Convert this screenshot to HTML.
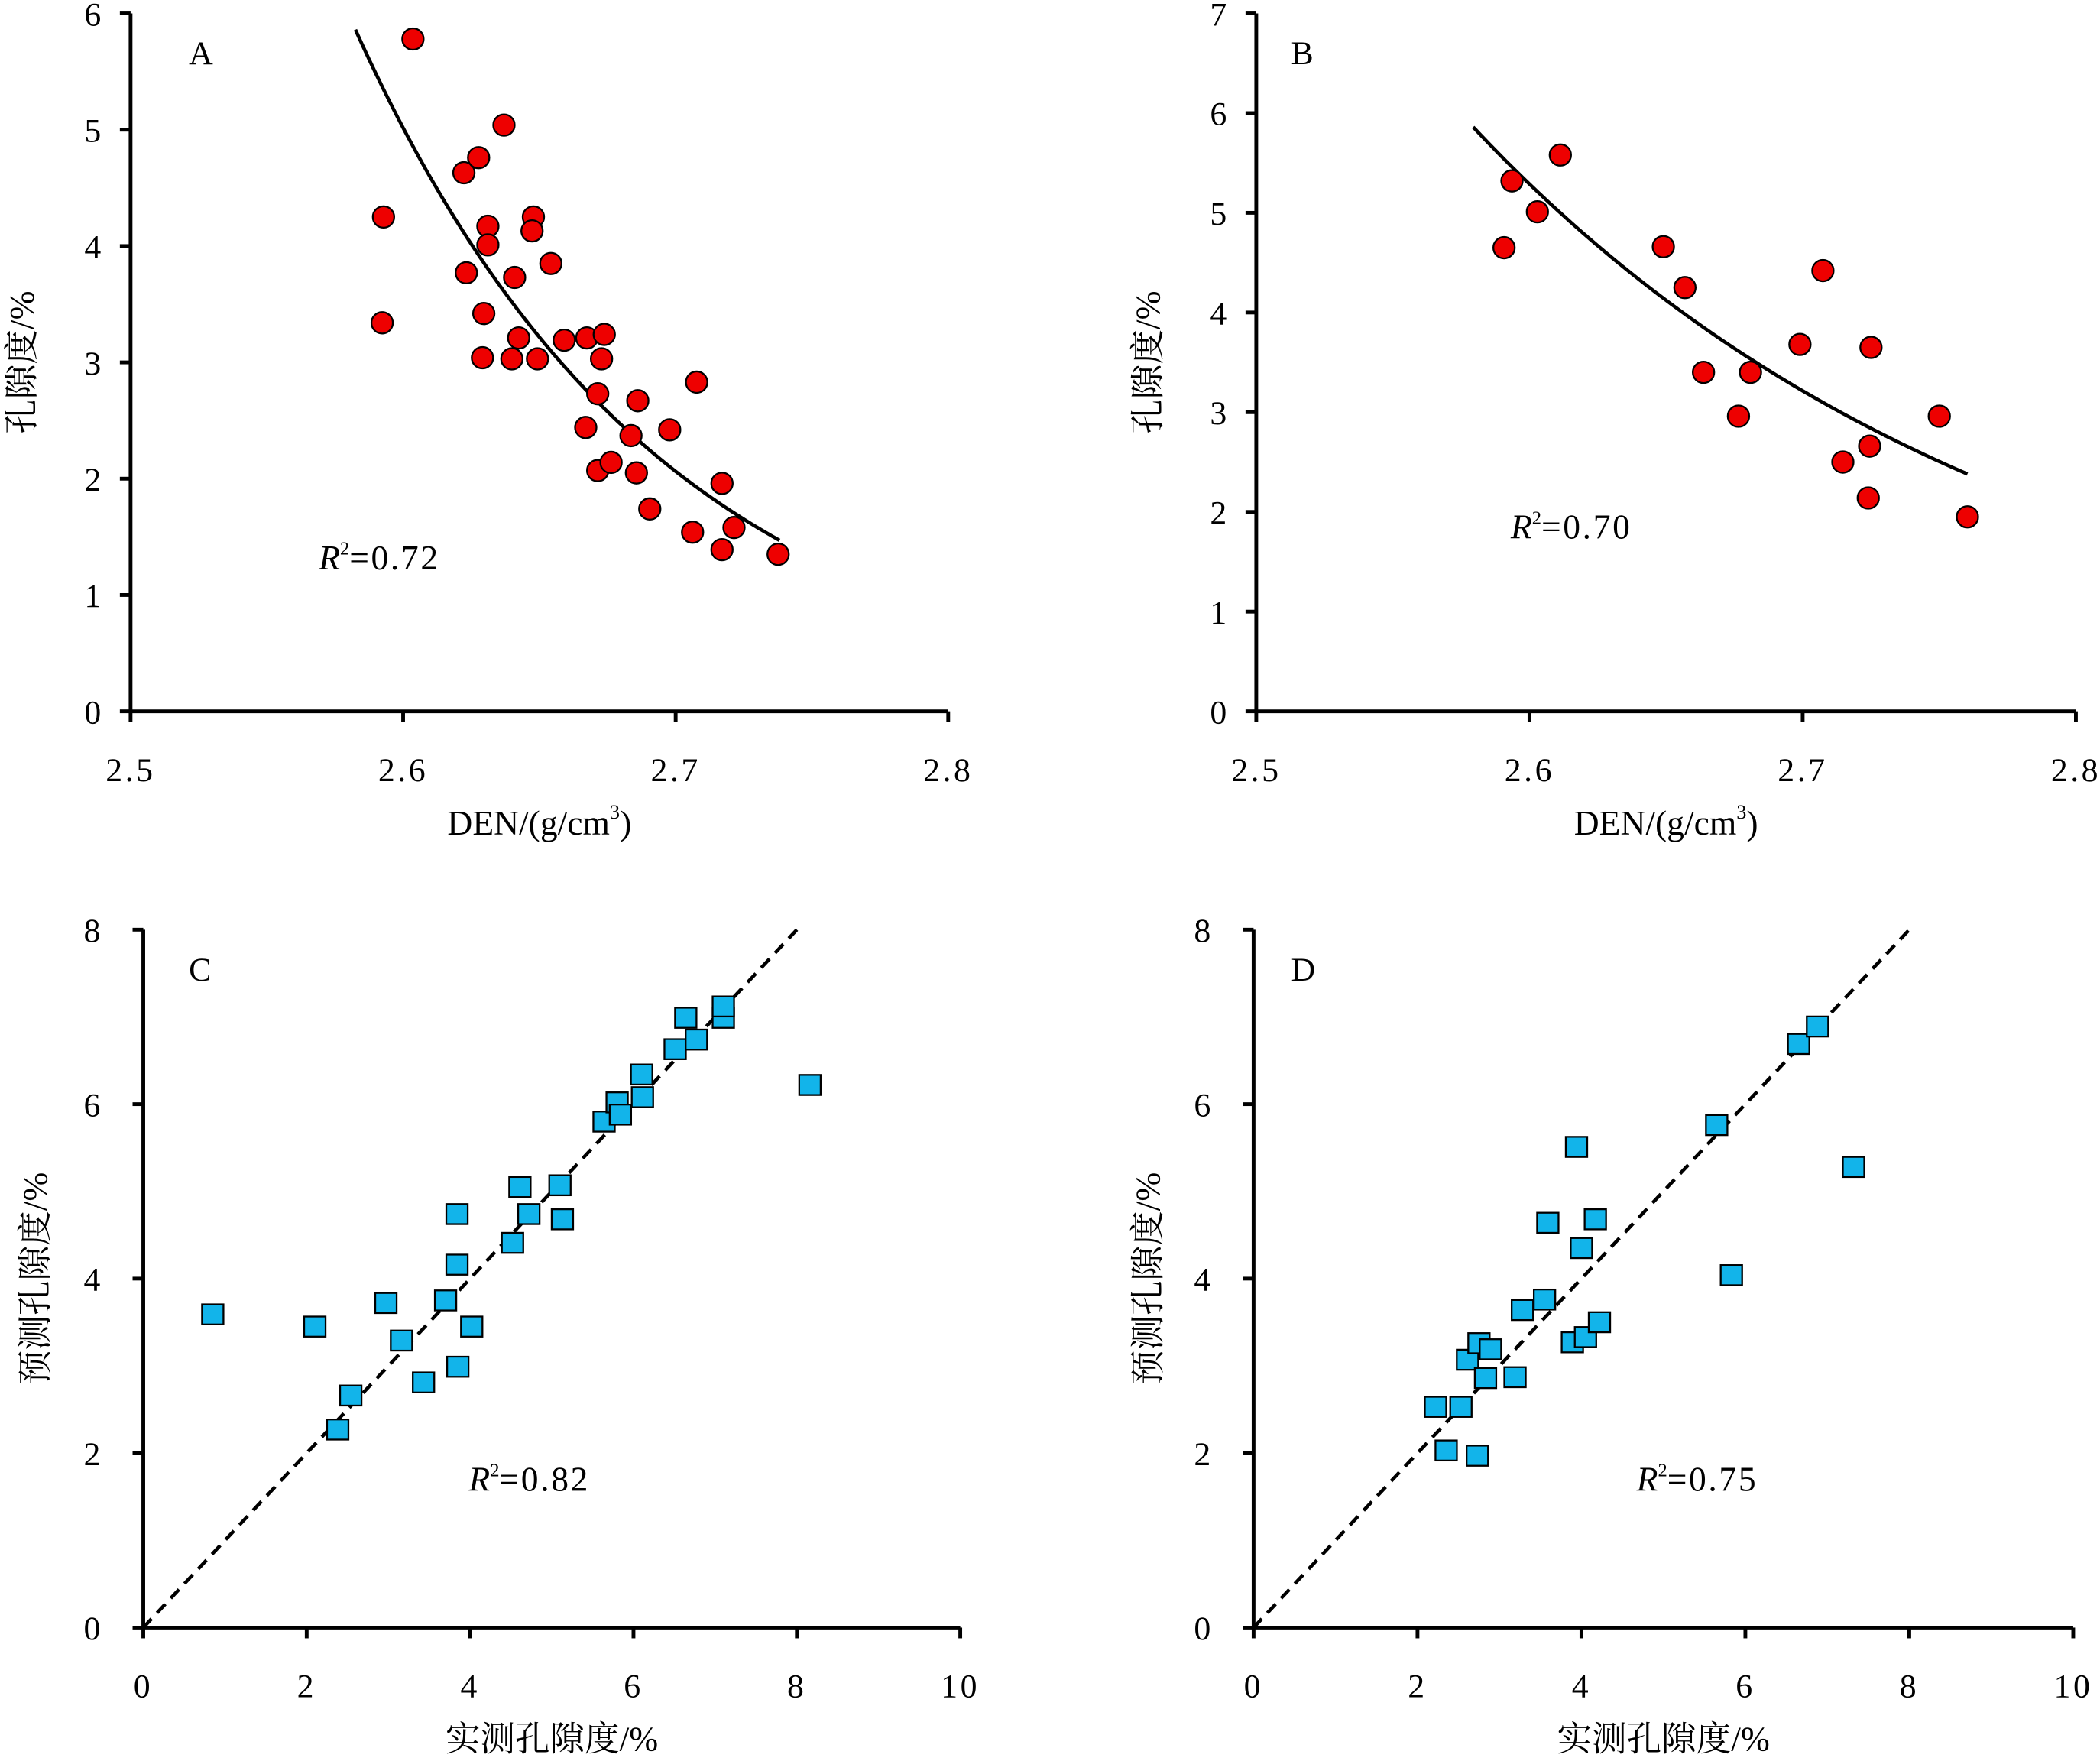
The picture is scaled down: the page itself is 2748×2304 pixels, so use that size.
<!DOCTYPE html>
<html><head><meta charset="utf-8"><style>
html,body{margin:0;padding:0;background:#fff;}
svg{display:block;}
text{font-family:"Liberation Serif","Noto Serif CJK SC","Noto Sans CJK SC",serif;fill:#000;}
</style></head><body>
<svg id="chart" width="2748" height="2304" viewBox="0 0 1568 1314.6" preserveAspectRatio="none" xmlns="http://www.w3.org/2000/svg" font-family="'Liberation Serif', 'Noto Serif CJK SC', serif"></svg>
<script>
// Panel A data
const aDen = [2.6036,2.5928,2.5923,2.6370,2.6223,2.6277,2.6311,2.6311,2.6478,2.6473,2.6542,2.6232,2.6409,2.6296,2.6424,2.6291,2.6399,2.6493,2.6591,2.6674,2.6738,2.6728,2.6714,2.7077,2.6861,2.6670,2.6836,2.6978,2.6714,2.6763,2.6856,2.6905,2.7170,2.7062,2.7214,2.7170,2.7376];
const aPor = [5.78,4.25,3.34,5.04,4.63,4.76,4.17,4.01,4.25,4.13,3.85,3.77,3.73,3.42,3.21,3.04,3.03,3.03,3.19,3.21,3.24,3.03,2.73,2.83,2.67,2.44,2.37,2.42,2.07,2.14,2.05,1.74,1.96,1.54,1.58,1.39,1.35];
const aFit = [5.86, -8.886, 2.5825, 2.7381]; // y = a*exp(b*(x-x0)), x range
// Panel B data
const bDen = [2.5936,2.5907,2.6029,2.6113,2.6490,2.6569,2.6637,2.6809,2.6765,2.6990,2.7074,2.7250,2.7500,2.7147,2.7245,2.7240,2.7603];
const bPor = [5.32,4.65,5.01,5.58,4.66,4.25,3.40,3.40,2.96,3.68,4.42,3.65,2.96,2.50,2.66,2.14,1.95];
const bFit = [5.86, -4.98, 2.5794, 2.7603];
// Panel C data
const cMeas = [0.85,2.10,2.54,2.38,2.97,3.16,3.43,3.70,3.84,3.84,3.85,4.02,4.52,4.61,4.72,5.10,5.13,5.64,5.80,5.84,6.10,6.11,6.51,6.64,6.77,7.10,7.10,8.16];
const cPred = [3.59,3.45,2.66,2.27,3.72,3.29,2.81,3.75,4.16,4.74,2.99,3.45,4.41,5.05,4.74,5.07,4.68,5.80,6.02,5.88,6.34,6.08,6.63,6.99,6.74,6.99,7.12,6.22];
// Panel D data
const dMeas = [2.22,2.53,2.35,2.73,2.61,2.75,2.83,2.89,3.19,3.28,3.55,3.59,3.89,4.00,4.05,3.94,4.17,4.22,5.65,5.83,6.65,6.88,7.32];
const dPred = [2.53,2.53,2.03,1.97,3.07,3.26,2.86,3.19,2.87,3.64,3.76,4.64,3.27,4.35,3.33,5.51,4.68,3.50,5.76,4.04,6.69,6.89,5.28];
const denTicks = ["2.5","2.6","2.7","2.8"];
const aYTicks = ["0","1","2","3","4","5","6"];
const bYTicks = ["0","1","2","3","4","5","6","7"];
const cdXTicks = ["0","2","4","6","8","10"];
const cdYTicks = ["0","2","4","6","8"];

const NS="http://www.w3.org/2000/svg";
const svg=document.getElementById('chart');
const FF="'Liberation Serif', 'Noto Serif CJK SC', serif";
function mk(tag,attrs,parent){const e=document.createElementNS(NS,tag);for(const k in attrs)e.setAttribute(k,attrs[k]);if(tag==='text')e.setAttribute('font-family',FF);(parent||svg).appendChild(e);return e;}

function panel(cfg){
  const g=mk('g',{});
  
  
  const sx=v=>cfg.x0+(v-cfg.xmin)/(cfg.xmax-cfg.xmin)*(cfg.x1-cfg.x0);
  const sy=v=>cfg.y0-(v-cfg.ymin)/(cfg.ymax-cfg.ymin)*(cfg.y0-cfg.y1);
  const ax=mk('path',{d:`M${cfg.x0},${cfg.y1} V${cfg.y0} H${cfg.x1}`,fill:'none',stroke:'#000','stroke-width':2.8},g);
  
  
  cfg.xt.forEach((t)=>{const X=sx(parseFloat(t));
    mk('line',{x1:X,y1:cfg.y0,x2:X,y2:cfg.y0+8,stroke:'#000','stroke-width':2.8},g);
    const tx=mk('text',{x:X,y:cfg.y0+52,'text-anchor':'middle','font-size':25,'letter-spacing':2},g);tx.textContent=t;
    
    });
  cfg.yt.forEach((t)=>{const Y=sy(parseFloat(t));
    mk('line',{x1:cfg.x0-8,y1:Y,x2:cfg.x0,y2:Y,stroke:'#000','stroke-width':2.8},g);
    const tx=mk('text',{x:cfg.x0-cfg.yoff,y:Y+9,'text-anchor':'end','font-size':25},g);tx.textContent=t;
    
    });
  const lab=mk('text',{x:cfg.lx,y:cfg.y1+38,'font-size':25},g);lab.textContent=cfg.label;
  
  
  const yt=mk('text',{x:0,y:0,'text-anchor':'middle','font-size':26,transform:`translate(${cfg.ytx},${(cfg.y0+cfg.y1)/2}) rotate(-90)`},g);
  yt.textContent=cfg.ytitle;
  
  
  const xt=mk('text',{x:(cfg.x0+cfg.x1)/2,y:cfg.y0+92,'text-anchor':'middle','font-size':26},g);
  if(cfg.den){xt.innerHTML='DEN/(g/cm<tspan dy="-12" font-size="15">3</tspan><tspan dy="12">)</tspan>';}
  else xt.textContent=cfg.xtitle;
  
  
  if(cfg.fit){const f=cfg.fit;let d='';for(let i=0;i<=60;i++){const v=f[2]+(f[3]-f[2])*i/60;d+=(i?'L':'M')+sx(v)+','+sy(f[0]*Math.exp(f[1]*(v-f[2])));}
    const p=mk('path',{d,fill:'none',stroke:'#000','stroke-width':2.6},g);
    
    }
  if(cfg.diag){const p=mk('line',{x1:sx(0),y1:sy(0),x2:sx(8),y2:sy(8),stroke:'#000','stroke-width':2.6,'stroke-dasharray':'9,6'},g);
    
    }
  cfg.xs.forEach((v,i)=>{
    let m;
    if(cfg.circle){m=mk('circle',{cx:sx(v),cy:sy(cfg.ys[i]),r:8,fill:'#ee0000',stroke:'#000','stroke-width':1.3},g);}
    else{m=mk('rect',{x:sx(v)-8,y:sy(cfg.ys[i])-7.5,width:16,height:15,fill:'#12b4ea',stroke:'#000','stroke-width':1.3},g);}
    
    
  });
  const r=mk('text',{x:cfg.rx,y:cfg.ry,'font-size':26},g);
  r.innerHTML='<tspan font-style="italic">R</tspan><tspan dy="-11" font-size="14">2</tspan><tspan dy="11" letter-spacing="1.5">='+cfg.r2+'</tspan>';
  
  
}
panel({name:'panel-a',label:'A',lx:141,x0:97.5,x1:708,y0:531,y1:10,xmin:2.5,xmax:2.8,ymin:0,ymax:6,xt:denTicks,yt:aYTicks,yoff:22,ytx:25,xs:aDen,ys:aPor,circle:true,fit:aFit,den:true,ytitle:'孔隙度/%',rx:238,ry:425,r2:'0.72'});
panel({name:'panel-b',label:'B',lx:964,x0:938,x1:1550,y0:531,y1:10,xmin:2.5,xmax:2.8,ymin:0,ymax:7,xt:denTicks,yt:bYTicks,yoff:22,ytx:866,xs:bDen,ys:bPor,circle:true,fit:bFit,den:true,ytitle:'孔隙度/%',rx:1128,ry:402,r2:'0.70'});
panel({name:'panel-c',label:'C',lx:141,x0:107,x1:717,y0:1215,y1:694,xmin:0,xmax:10,ymin:0,ymax:8,xt:cdXTicks,yt:cdYTicks,yoff:32,ytx:35,xs:cMeas,ys:cPred,diag:true,xtitle:'实测孔隙度/%',ytitle:'预测孔隙度/%',rx:350,ry:1113,r2:'0.82'});
panel({name:'panel-d',label:'D',lx:964,x0:936,x1:1548,y0:1215,y1:694,xmin:0,xmax:10,ymin:0,ymax:8,xt:cdXTicks,yt:cdYTicks,yoff:32,ytx:866,xs:dMeas,ys:dPred,diag:true,xtitle:'实测孔隙度/%',ytitle:'预测孔隙度/%',rx:1222,ry:1113,r2:'0.75'});
</script>
</body></html>
